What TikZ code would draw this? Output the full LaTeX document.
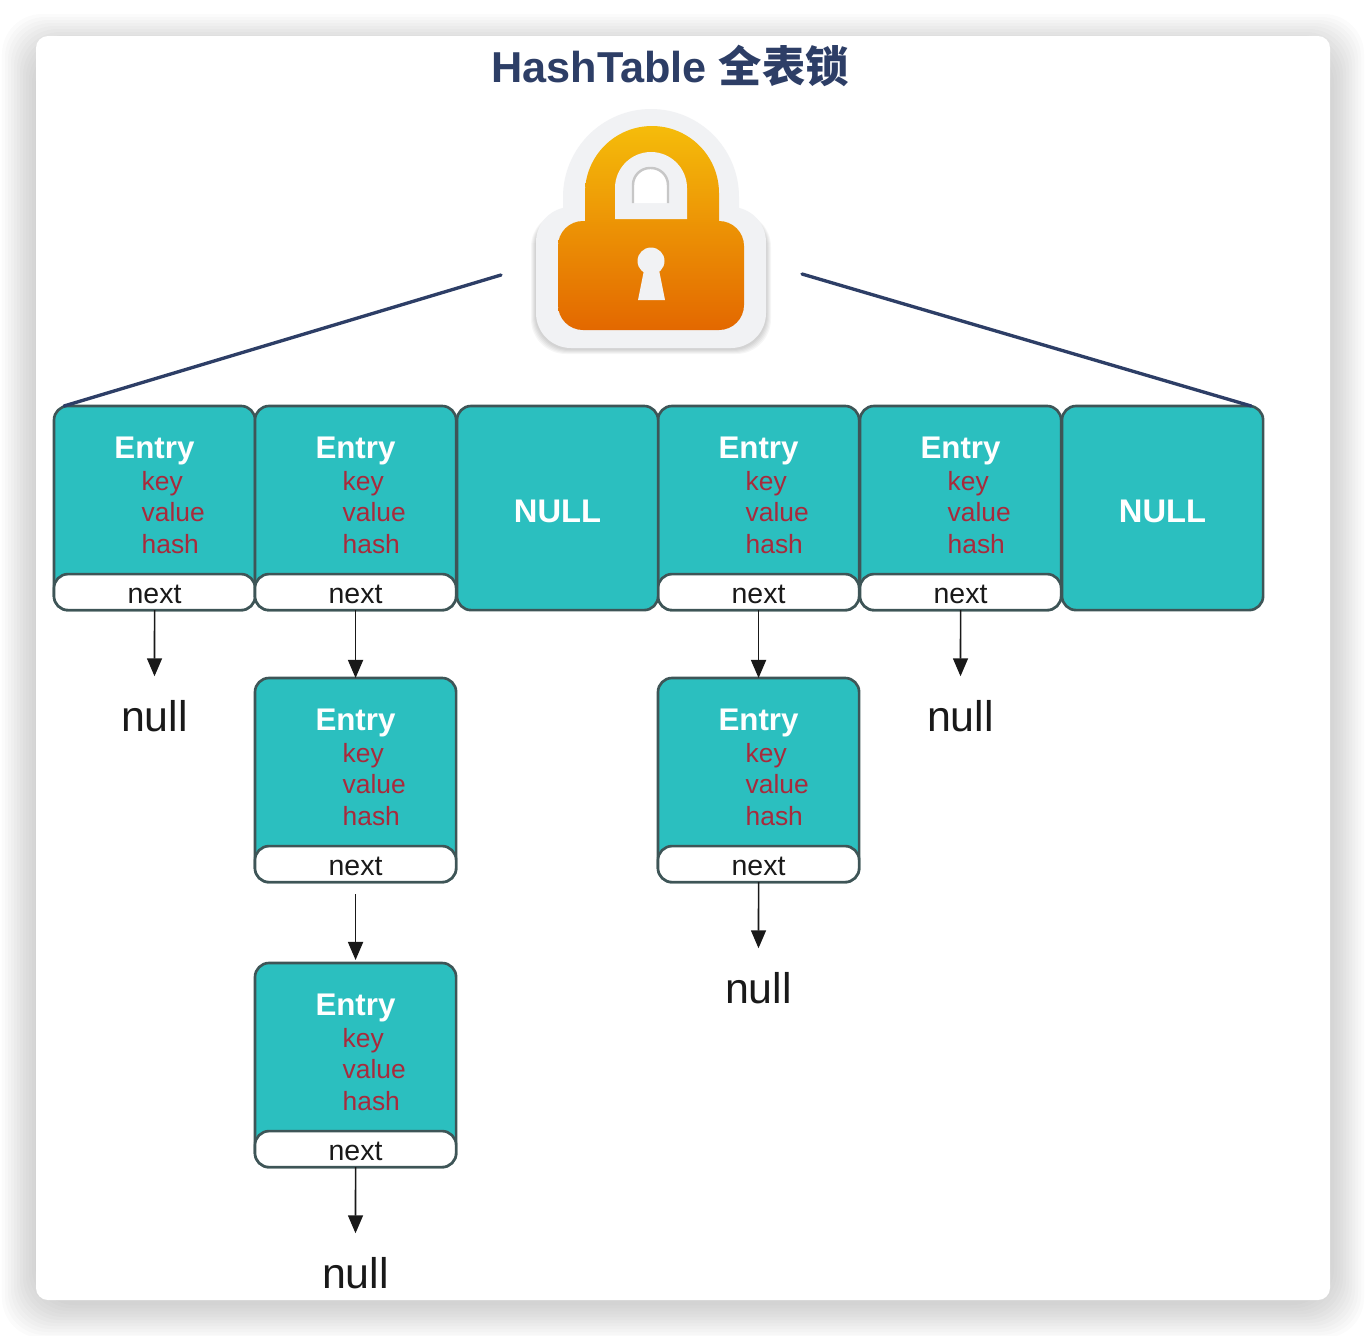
\documentclass[tikz,border=0pt]{standalone}
\usepackage{fontspec}
\setmainfont{Liberation Sans}
\newfontfamily\cjk{Noto Sans CJK SC}
\usepackage{tikz}
\usetikzlibrary{arrows.meta,calc}
\definecolor{slotteal}{HTML}{2BBFBF}
\definecolor{slotedge}{HTML}{3E5557}
\definecolor{fieldred}{HTML}{A82A3C}
\definecolor{titleblue}{HTML}{2D3E66}
\definecolor{lockrim}{HTML}{F1F2F4}
\definecolor{locktop}{HTML}{F5BC0A}
\definecolor{lockbottom}{HTML}{E36800}
\colorlet{lockmid}{lockbottom!47!locktop}
\tikzset{
  slot/.style       = {draw=slotedge, fill=slotteal, line width=0.75pt, rounded corners=1.4mm,
                       minimum width=2.01cm, minimum height=2.04cm, inner sep=0pt, outer sep=0pt,
                       anchor=north west},
  next cell/.style  = {draw=slotedge, fill=white, line width=0.75pt, rounded corners=1.4mm,
                       minimum width=2.01cm, minimum height=0.36cm, inner sep=0pt, outer sep=0pt,
                       anchor=south, text height=6.5pt, text depth=0pt,
                       font=\fontsize{8.1}{8}\selectfont, text=black!90},
  entry title/.style = {inner sep=0pt, anchor=base, text=white,
                        font=\fontsize{8.9}{10}\selectfont\bfseries},
  null title/.style = {entry title, font=\fontsize{9.3}{10}\selectfont\bfseries},
  field/.style      = {inner sep=0pt, anchor=base west, text=fieldred,
                       font=\fontsize{7.5}{8}\selectfont},
  null end/.style   = {inner sep=0pt, anchor=base, text height=0.54cm, text depth=0pt,
                       text=black!90, font=\fontsize{12.2}{12}\selectfont},
  link/.style       = {-{Stealth[length=1.8mm,width=1.5mm,inset=0pt]}, black!90, line width=0.45pt},
  lock line/.style  = {titleblue, line width=0.95pt, line cap=round},
}
% one chain element, top left corner at (#2,#3)
\newcommand{\entrybox}[3]{
  \node[slot] (#1) at (#2,#3) {};
  \node[next cell] (#1next) at (#1.south) {next};
  \node[entry title] (#1title) at ($(#1.north west)+(100.5,52)$) {Entry};
  \node[field] (#1key) at ($(#1.north west)+(87,84.5)$) {key};
  \node[field] (#1value) at ($(#1.north west)+(87,115.5)$) {value};
  \node[field] (#1hash) at ($(#1.north west)+(87,147)$) {hash};
}
\begin{document}
\begin{tikzpicture}[x=0.01cm,y=-0.01cm]
  \useasboundingbox (0,0) rectangle (1366,1336);
  % window shadow and card
  \foreach \r in {34,31,...,1}
    \fill[black, opacity=0.014, rounded corners=4mm]
      ({36-\r},{48-\r}) rectangle ({1330+\r},{1304+\r});
  \fill[white, rounded corners=1.2mm] (36,36) rectangle (1330,1300);
  \node[inner sep=0pt, text=titleblue, font=\fontsize{12.3}{12}\selectfont\bfseries]
    (title) at (670,66) {HashTable {\cjk 全表锁}};

  % lock
  \foreach \r in {5,4,...,1}
    \fill[black, opacity=0.035, rounded corners=3.5mm]
      ({536-\r},{212}) rectangle ({766+\r},{349+\r});
  \fill[lockrim, rounded corners=3.5mm] (536,207) rectangle (766,348);
  \fill[lockrim, rounded corners=8.8mm] (563,260) -- (563,109) -- (739,109) -- (739,260);
  \fill[lockrim] (563,200) rectangle (739,260);
  \shade[top color=locktop, bottom color=lockmid] (585,222) [rounded corners=6.7mm] -- (585,126)
    -- (719,126) [sharp corners] -- (719,222) -- cycle;
  \shade[top color=lockmid, bottom color=lockbottom, rounded corners=2.5mm]
    (558,221) rectangle (744,330);
  \fill[lockrim] (615,219) [rounded corners=3.6mm] -- (615,152) -- (687,152)
    [sharp corners] -- (687,219) -- cycle;
  \draw[black!22, fill=white, line width=0.7pt] (633,203) [rounded corners=1.7mm] -- (633,168)
    -- (668,168) [sharp corners] -- (668,203);
  \fill[lockrim] (651,261) circle (13.5);
  \fill[lockrim] (645,265) -- (658,265) -- (665,300) -- (638,300) -- cycle;

  % table
  \foreach \name/\x in {slotA/54,slotB/255,slotD/658,slotE/860}
    {\entrybox{\name}{\x}{406}}
  \foreach \name/\x in {slotC/457,slotF/1062}{
    \node[slot] (\name) at (\x,406) {};
    \node[null title] (\name title) at ($(\name.north)+(0,116)$) {NULL};
  }
  \entrybox{chainB}{255}{678}
  \entrybox{chainC}{255}{963}
  \entrybox{chainD}{658}{678}

  \coordinate (lockleft) at (501,275);
  \coordinate (lockright) at (802,274);
  \draw[lock line] (lockleft) -- ($(slotA.north west)+(10,0)$);
  \draw[lock line] (lockright) -- ($(slotF.north east)+(-12,0)$);

  \node[null end] (nullA) at (154.5,731) {null};
  \node[null end] (nullD) at (758.5,1003) {null};
  \node[null end] (nullE) at (960.5,731) {null};
  \node[null end] (nullC) at (355.5,1288) {null};

  \draw[link] (slotAnext.south) -- (nullA.north);
  \draw[link] (slotBnext.south) -- (chainB.north);
  \draw[link, shorten <=1.2mm, shorten >=0.3mm] (chainBnext.south) -- (chainC.north);
  \draw[link] (chainCnext.south) -- (nullC.north);
  \draw[link] (slotDnext.south) -- (chainD.north);
  \draw[link] (chainDnext.south) -- (nullD.north);
  \draw[link] (slotEnext.south) -- (nullE.north);
\end{tikzpicture}
\end{document}
